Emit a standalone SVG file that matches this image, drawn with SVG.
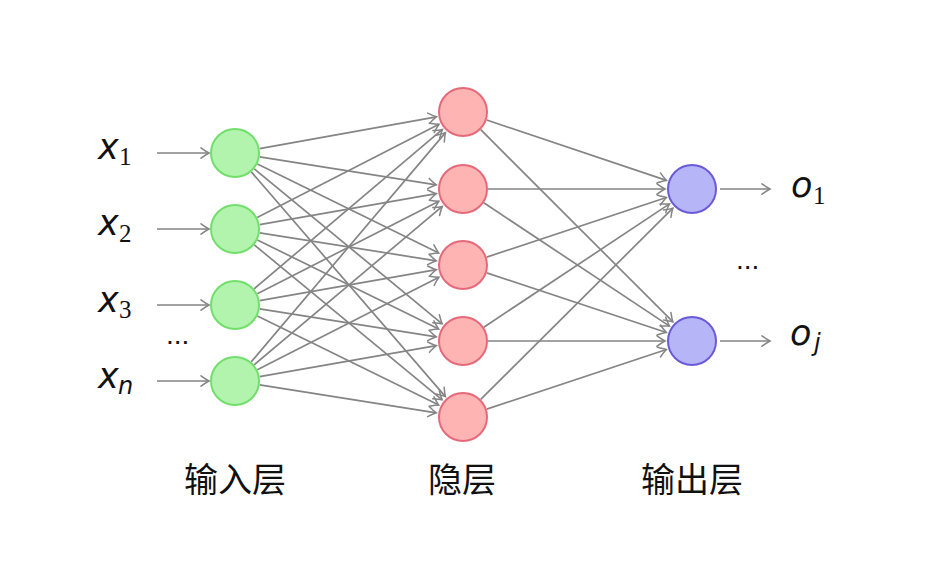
<svg xmlns="http://www.w3.org/2000/svg" width="940" height="570" viewBox="0 0 940 570">
<style>
.edge{stroke:#858585;stroke-width:1.7;fill:none;marker-end:url(#arr)}
.in{fill:#b2f4ae;stroke:#72df6c;stroke-width:2}
.hid{fill:#ffb4b4;stroke:#e6697a;stroke-width:2}
.out{fill:#b5b5f8;stroke:#6a5ad6;stroke-width:2}
.var{font-family:"DejaVu Sans",sans-serif;font-style:italic;font-size:35px;fill:#111}
.sub{font-family:"Liberation Serif",serif;font-size:25px;fill:#111}
.subi{font-family:"DejaVu Sans",sans-serif;font-style:italic;font-size:24px;fill:#111}
.dots{font-family:"Liberation Sans",sans-serif;font-size:28px;fill:#111}
.cap{font-family:"Noto Sans CJK SC",sans-serif;font-size:34px;fill:#111;text-anchor:middle}
</style>
<defs>
<marker id="arr" markerUnits="userSpaceOnUse" viewBox="-10 -7 12 14" markerWidth="12" markerHeight="14" refX="0" refY="0" orient="auto" overflow="visible">
<path d="M-8,-5.2 Q-2.8,-1.4 0,0 Q-2.8,1.4 -8,5.2" fill="none" stroke="#858585" stroke-width="1.5" stroke-linecap="round"/>
</marker>
</defs>
<rect width="940" height="570" fill="#ffffff"/>

<g id="connectors">
<line class="edge" x1="157" y1="153" x2="209" y2="153"/>
<line class="edge" x1="157" y1="229" x2="209" y2="229"/>
<line class="edge" x1="157" y1="305" x2="209" y2="305"/>
<line class="edge" x1="157" y1="381" x2="209" y2="381"/>

<line class="edge" x1="259.6" y1="148.6" x2="436.4" y2="116.8"/>
<line class="edge" x1="259.7" y1="156.9" x2="436.3" y2="184.8"/>
<line class="edge" x1="257.4" y1="164.0" x2="438.8" y2="253.1"/>
<line class="edge" x1="254.3" y1="168.9" x2="442.2" y2="323.8"/>
<line class="edge" x1="251.3" y1="171.9" x2="445.4" y2="396.6"/>

<line class="edge" x1="257.2" y1="217.6" x2="439.0" y2="124.3"/>
<line class="edge" x1="259.6" y1="224.7" x2="436.4" y2="193.7"/>
<line class="edge" x1="259.7" y1="232.9" x2="436.3" y2="260.8"/>
<line class="edge" x1="257.4" y1="240.0" x2="438.8" y2="329.1"/>
<line class="edge" x1="254.3" y1="244.9" x2="442.2" y2="399.8"/>

<line class="edge" x1="254.1" y1="288.8" x2="442.4" y2="129.4"/>
<line class="edge" x1="257.3" y1="293.7" x2="438.9" y2="201.2"/>
<line class="edge" x1="259.6" y1="300.7" x2="436.4" y2="269.7"/>
<line class="edge" x1="259.7" y1="308.9" x2="436.3" y2="336.8"/>
<line class="edge" x1="257.4" y1="316.0" x2="438.8" y2="405.1"/>

<line class="edge" x1="251.2" y1="361.9" x2="445.5" y2="132.6"/>
<line class="edge" x1="254.1" y1="364.9" x2="442.3" y2="206.4"/>
<line class="edge" x1="257.3" y1="369.7" x2="438.9" y2="277.2"/>
<line class="edge" x1="259.6" y1="376.7" x2="436.4" y2="345.7"/>
<line class="edge" x1="259.7" y1="384.9" x2="436.3" y2="412.8"/>

<line class="edge" x1="486.7" y1="120.0" x2="666.4" y2="180.4"/>
<line class="edge" x1="480.7" y1="129.7" x2="672.9" y2="321.9"/>
<line class="edge" x1="488" y1="189" x2="665" y2="189"/>
<line class="edge" x1="483.8" y1="202.8" x2="669.5" y2="326.1"/>
<line class="edge" x1="486.7" y1="257.1" x2="666.4" y2="197.5"/>
<line class="edge" x1="486.7" y1="272.9" x2="666.4" y2="332.5"/>
<line class="edge" x1="483.8" y1="327.2" x2="669.5" y2="203.9"/>
<line class="edge" x1="488" y1="341" x2="665" y2="341"/>
<line class="edge" x1="480.7" y1="399.4" x2="672.9" y2="208.1"/>
<line class="edge" x1="486.7" y1="409.1" x2="666.4" y2="349.5"/>

<line class="edge" x1="720" y1="189" x2="770" y2="189"/>
<line class="edge" x1="720" y1="341" x2="770" y2="341"/>
</g>

<g id="input-layer">
<g id="in1"><circle class="in" cx="235" cy="153" r="24"/><text class="var" x="98" y="159">x</text><text class="sub" x="119" y="165">1</text></g>
<g id="in2"><circle class="in" cx="235" cy="229" r="24"/><text class="var" x="98" y="235">x</text><text class="sub" x="119" y="242">2</text></g>
<g id="in3"><circle class="in" cx="235" cy="305" r="24"/><text class="var" x="98" y="312">x</text><text class="sub" x="119" y="318">3</text></g>
<g id="in-dots"><text class="dots" x="166" y="344">...</text></g>
<g id="in4"><circle class="in" cx="235" cy="381" r="24"/><text class="var" x="98" y="388">x</text><text class="subi" x="118" y="394">n</text></g>
</g>

<g id="hidden-layer">
<g id="h1"><circle class="hid" cx="463" cy="112" r="24"/></g>
<g id="h2"><circle class="hid" cx="463" cy="189" r="24"/></g>
<g id="h3"><circle class="hid" cx="463" cy="265" r="24"/></g>
<g id="h4"><circle class="hid" cx="463" cy="341" r="24"/></g>
<g id="h5"><circle class="hid" cx="463" cy="417" r="24"/></g>
</g>

<g id="output-layer">
<g id="o1"><circle class="out" cx="692" cy="189" r="24"/><text class="var" x="791" y="197">o</text><text class="sub" x="813" y="204">1</text></g>
<g id="out-dots"><text class="dots" x="736" y="269">...</text></g>
<g id="o2"><circle class="out" cx="692" cy="341" r="24"/><text class="var" x="790" y="345">o</text><text class="subi" x="814" y="351">j</text></g>
</g>

<g id="captions">
<text class="cap" x="235" y="492">输入层</text>
<text class="cap" x="462" y="492">隐层</text>
<text class="cap" x="692" y="492">输出层</text>
</g>
</svg>
